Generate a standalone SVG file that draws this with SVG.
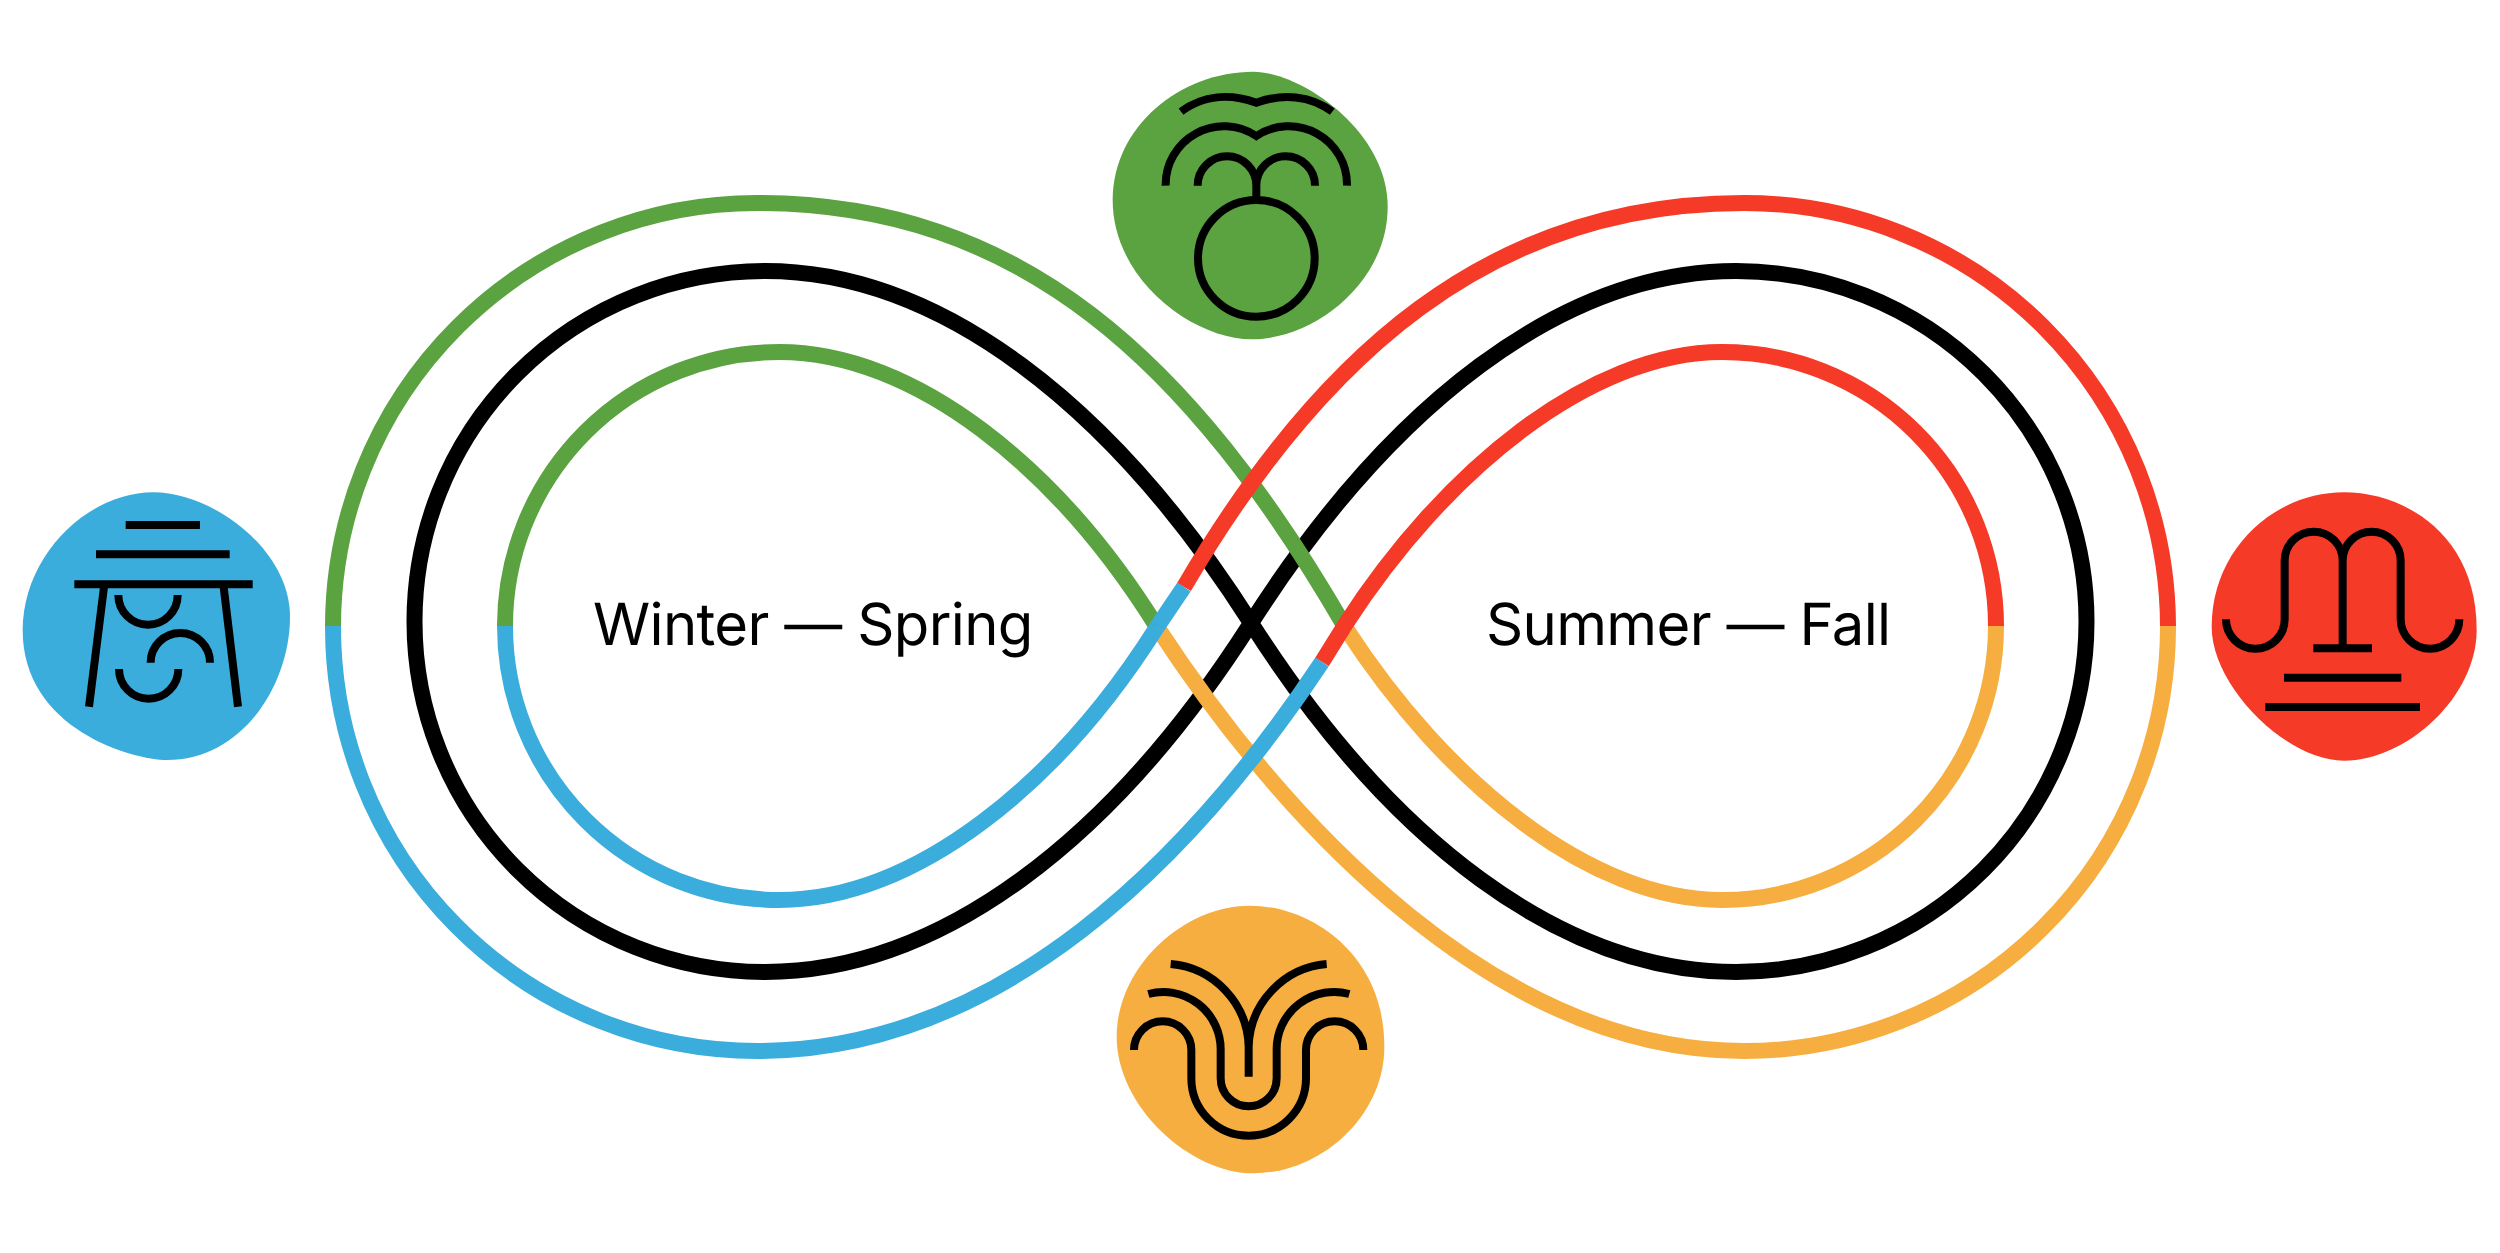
<svg xmlns="http://www.w3.org/2000/svg" width="2500" height="1253" viewBox="0 0 2500 1253">
<style>
.c{fill:none;stroke-width:16;stroke-linecap:butt}
.k{stroke:#000}.g{stroke:#5BA240}.o{stroke:#F6AE40}.r{stroke:#F63A28}.b{stroke:#3BADDD}
.i{fill:none;stroke:#000;stroke-width:24;stroke-linecap:butt}
.t{font-family:Inter,"Liberation Sans",sans-serif;font-size:58px;letter-spacing:-.65px;fill:#000;text-rendering:geometricPrecision}
</style>
<rect width="2500" height="1253" fill="#fff"/>
<g id="connectors">
<path class="c k" d="M765,271 C940,271 1112,405 1251,623 C1390,841 1562,972 1736,972 A350,350 0 0 0 1736,271 C1562,271 1390,405 1251,623 C1112,841 940,972 765,972 A350,350 0 0 1 765,271Z"/>
<path class="c g" d="M333,626 A424,424 0 0 1 757,203 C1020,203 1190,360 1345,627"/>
<path class="c g" d="M505,626 A274,274 0 0 1 779,352 C915,352 1058,468 1157,627"/>
<path class="c o" d="M1345,627 C1445,782 1590,900 1722,900 A274,274 0 0 0 1996,626"/>
<path class="c o" d="M1157,627 C1290,830 1500,1051 1744,1051 A424,424 0 0 0 2168,626"/>
<path class="c r" d="M2168,626 A424,424 0 0 0 1744,203 C1490,203 1320,355 1184,587"/>
<path class="c r" d="M1996,626 A274,274 0 0 0 1722,352 C1590,352 1445,470 1345,625 L1322,662"/>
<path class="c b" d="M505,626 A274,274 0 0 0 779,900 C915,900 1058,784 1157,627"/>
<path class="c b" d="M1157,627 L1184,587"/>
<path class="c b" d="M333,626 A424,424 0 0 0 757,1051 C1000,1051 1190,860 1322,662"/>
</g>
<g id="node-spring" transform="translate(1080,50) scale(.33333)">
<path fill="#5BA240" d="M520,65 C660,65 923,240 923,470 C923,700 700,868 515,868 C340,868 98,690 98,450 C98,230 300,65 520,65Z"/>
<circle class="i" cx="529" cy="625" r="175"/>
<path class="i" d="M529,450 V407 M353,407 A88,88 0 0 1 529,407 A88,88 0 0 1 705,407 M257,407 A175,175 0 0 1 529,258 A175,175 0 0 1 801,407 M303,185 C370,135 450,130 529,158 C608,130 690,135 757,185"/>
</g>
<g id="node-fall" transform="translate(1090,890) scale(.33333)">
<path fill="#F6AE40" d="M480,47 C660,47 883,190 883,470 C883,680 690,850 490,850 C300,850 80,650 80,440 C80,230 280,47 480,47Z"/>
<path class="i" d="M132,480 A86,86 0 0 1 304,480 V565 A172,172 0 0 0 648,565 V480 A86,86 0 0 1 820,480 M175,312 A172,172 0 0 1 392,480 V565 A84,84 0 0 0 560,565 V480 A172,172 0 0 1 778,312 M242,222 A256,256 0 0 1 476,470 V560 M710,222 A256,256 0 0 0 476,470"/>
</g>
<g id="node-winter" transform="translate(0,470) scale(.33333)">
<path fill="#3BADDD" d="M460,67 C640,67 870,240 870,440 C870,640 730,870 500,870 C400,870 68,780 68,480 C68,260 260,67 460,67Z"/>
<path class="i" d="M377,165 H600 M288,253 H689 M223,343 H758 M313,343 L267,710 M670,343 L714,710 M355,375 A89,89 0 0 0 533,375 M452,578 A89,89 0 0 1 630,578 M357,597 A89,89 0 0 0 535,597"/>
</g>
<g id="node-summer" transform="translate(2190,470) scale(.33333)">
<path fill="#F63A28" d="M462,67 C640,67 860,190 860,480 C860,680 650,872 462,872 C290,872 65,650 65,470 C65,240 250,67 462,67Z"/>
<path class="i" d="M108,448 A88,88 0 0 0 284,448 V272 A87,87 0 0 1 458,272 A87,87 0 0 1 632,272 V448 A88,88 0 0 0 808,448 M458,272 V535 M370,535 H546 M282,623 H634 M226,711 H690"/>
</g>
<g id="label-winter-spring"><text class="t" x="593" y="645">Winter — Spring</text></g>
<g id="label-summer-fall"><text class="t" x="1486" y="645">Summer — Fall</text></g>
</svg>
